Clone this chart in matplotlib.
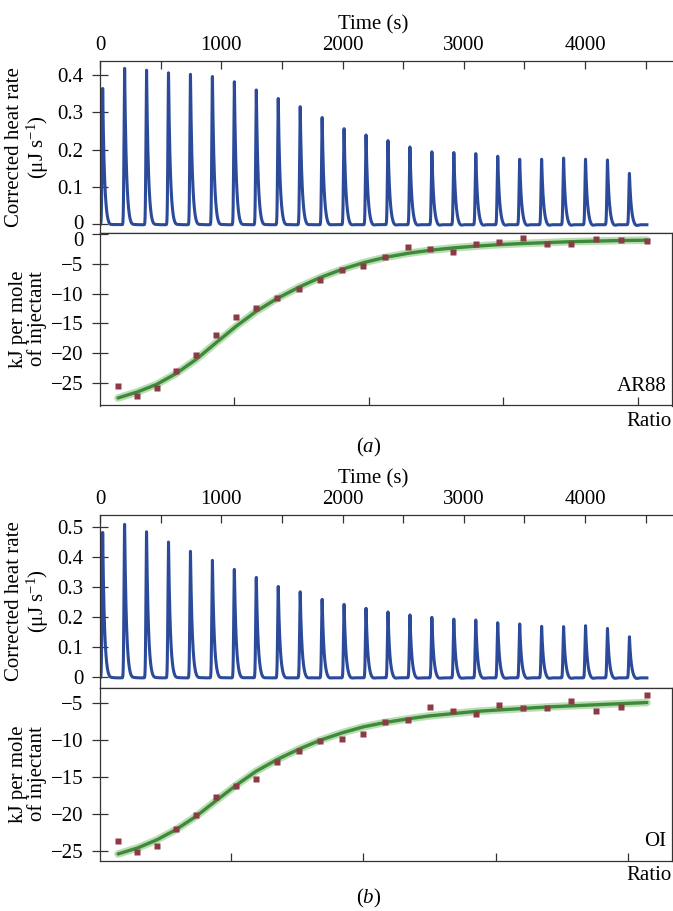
import numpy as np
import matplotlib.pyplot as plt
import matplotlib.transforms as mtransforms

plt.rcParams['font.family'] = ['Liberation Serif', 'DejaVu Serif']
plt.rcParams['font.size'] = 15
plt.rcParams['mathtext.fontset'] = 'custom'
plt.rcParams['mathtext.rm'] = 'Liberation Serif'
plt.rcParams['mathtext.it'] = 'Liberation Serif:italic'

# injection times (s), same for both experiments
inj_time = [22, 203, 384, 565, 746, 927, 1108, 1289, 1470, 1651, 1832, 2013, 2194,
            2375, 2556, 2737, 2918, 3099, 3280, 3461, 3642, 3823, 4004, 4185, 4366]
time_ticks = [0, 500, 1000, 1500, 2000, 2500, 3000, 3500, 4000, 4500]
time_labels = ['0', '', '1000', '', '2000', '', '3000', '', '4000', '']

# peak heights of the corrected heat rate (uJ/s)
heat_a = [0.366, 0.420, 0.415, 0.408, 0.404, 0.398, 0.384, 0.362, 0.339, 0.317, 0.288, 0.258, 0.241,
          0.226, 0.209, 0.196, 0.194, 0.191, 0.184, 0.176, 0.176, 0.179, 0.176, 0.174, 0.138]
heat_b = [0.485, 0.512, 0.487, 0.453, 0.422, 0.392, 0.362, 0.335, 0.305, 0.287, 0.262, 0.245, 0.232,
          0.220, 0.210, 0.202, 0.196, 0.193, 0.184, 0.180, 0.172, 0.171, 0.174, 0.165, 0.137]

# integrated heats vs molar ratio
ratio_a = [0.069, 0.140, 0.213, 0.284, 0.359, 0.433, 0.508, 0.582, 0.661, 0.742, 0.820, 0.902, 0.980,
           1.061, 1.147, 1.228, 1.313, 1.399, 1.485, 1.575, 1.664, 1.751, 1.845, 1.936, 2.034]
dh_a = [-25.5, -27.2, -25.9, -23.1, -20.3, -17.0, -13.9, -12.4, -10.8, -9.2, -7.7, -6.1, -5.3,
        -3.8, -2.2, -2.5, -3.0, -1.7, -1.3, -0.6, -1.6, -1.6, -0.8, -0.9, -1.2]
fit_a = [-27.6, -26.6, -25.3, -23.5, -21.1, -18.3, -15.5, -13.0, -10.8, -8.9, -7.3, -5.9, -4.8,
         -3.9, -3.2, -2.7, -2.3, -2.0, -1.75, -1.55, -1.4, -1.25, -1.15, -1.05, -1.0]

ratio_b = [0.073, 0.146, 0.219, 0.292, 0.368, 0.443, 0.519, 0.595, 0.675, 0.757, 0.837, 0.920, 0.999,
           1.082, 1.170, 1.252, 1.338, 1.426, 1.513, 1.605, 1.695, 1.785, 1.880, 1.973, 2.072]
dh_b = [-23.7, -25.2, -24.3, -22.0, -20.1, -17.7, -16.2, -15.2, -12.9, -11.4, -10.1, -9.8, -9.1,
        -7.5, -7.2, -5.5, -6.0, -6.5, -5.2, -5.6, -5.6, -4.7, -6.0, -5.5, -3.9]
fit_b = [-25.4, -24.6, -23.5, -22.1, -20.3, -18.2, -16.1, -14.2, -12.6, -11.2, -10.0, -9.0, -8.2,
         -7.6, -7.1, -6.7, -6.4, -6.1, -5.9, -5.7, -5.5, -5.35, -5.2, -5.05, -4.9]

BLUE = '#2b4a9a'
GREEN = '#3f8a3a'
HALO = '#a9d6a2'
RED = '#8c3a46'
SPINE = '#333333'

W, H = 673, 911
fig = plt.figure(figsize=(W / 100, H / 100), dpi=100)


def rect(x0, y0, x1, y1):
    # pixel box -> figure coords
    return [x0 / W, 1 - y1 / H, (x1 - x0) / W, (y1 - y0) / H]


def trace(heights):
    t = np.linspace(0, 4510, 9021)
    q = np.zeros_like(t) - 0.002
    for tp, h in zip(inj_time, heights):
        d = t - tp
        q += np.where(d < 0, h * np.exp(-(d / 7.0) ** 2), h * np.exp(-d / 15.0))
        q -= 0.005 * np.exp(-((d - 50) / 25.0) ** 2)
    return t, q


def style(ax):
    for s in ax.spines.values():
        s.set_color(SPINE)
        s.set_linewidth(0.9)
    ax.tick_params(axis='y', direction='inout', length=12, width=0.9, color=SPINE, pad=6)


def heat_panel(box, heights, yticks, ylim):
    ax = fig.add_axes(rect(*box))
    t, q = trace(heights)
    ax.plot(t, q, color=BLUE, lw=2.2)
    ax.set_xlim(0, 4717)
    ax.set_ylim(*ylim)
    style(ax)
    ax.spines['right'].set_visible(False)
    ax.xaxis.tick_top()
    ax.set_xticks(time_ticks, time_labels)
    ax.tick_params(axis='x', direction='in', length=5.5, width=0.9, color=SPINE, pad=4)
    ax.set_yticks(yticks, ['0'] + ['%.1f' % v for v in yticks[1:]])
    ax.annotate('Time (s)', (2250, 1.0), xycoords=('data', 'axes fraction'),
                xytext=(0, 26), textcoords='offset points', ha='center', va='center')
    return ax


def bind_panel(box, r, dh, fit, xlim, ylim, yticks, name):
    ax = fig.add_axes(rect(*box))
    ax.plot(r, fit, color=HALO, lw=5.5, alpha=0.8, solid_capstyle='round', zorder=2)
    ax.plot(r, fit, color=GREEN, lw=2.4, solid_capstyle='round', zorder=3)
    ax.plot(r, dh, 's', color=RED, ms=3.8, mec='none', zorder=4)
    ax.set_xlim(*xlim)
    ax.set_ylim(*ylim)
    style(ax)
    ax.set_xticks([0.5, 1.0, 1.5, 2.0], ['', '', '', ''])
    ax.tick_params(axis='x', direction='in', length=6, width=0.9, color=SPINE)
    ax.set_yticks(yticks)
    ax.text(0.99, 0.085, name, transform=ax.transAxes, ha='right', va='baseline')
    return ax


# panel (a)
ax_a = heat_panel((100, 61, 672, 232.5), heat_a, [0, 0.1, 0.2, 0.3, 0.4], (-0.0228, 0.4376))
bx_a = bind_panel((100, 232.5, 672, 405.5), ratio_a, dh_a, fit_a, (0.002, 2.127), (-28.87, 0.3),
                  [0, -5, -10, -15, -20, -25], 'AR88')
# nudge the two stacked zeros apart a little
lab0 = ax_a.get_yticklabels()[0]
lab0.set_transform(lab0.get_transform() + mtransforms.ScaledTranslation(0, 1.5 / 72, fig.dpi_scale_trans))
lab1 = bx_a.get_yticklabels()[0]
lab1.set_transform(lab1.get_transform() + mtransforms.ScaledTranslation(0, -3.5 / 72, fig.dpi_scale_trans))

# panel (b)
heat_panel((100, 515, 672, 688.3), heat_b, [0, 0.1, 0.2, 0.3, 0.4, 0.5], (-0.0367, 0.541))
bind_panel((100, 688.3, 672, 860.5), ratio_b, dh_b, fit_b, (0.0045, 2.167), (-26.29, -2.97),
           [-5, -10, -15, -20, -25], 'OI')

# axis titles, placed in figure pixels
ylab_heat = 'Corrected heat rate\n(μJ s$^{-1}$)'
ylab_kj = 'kJ per mole\nof injectant'
for yc, lab in [(147, ylab_heat), (319, ylab_kj), (601, ylab_heat), (774, ylab_kj)]:
    fig.text(28 / W, 1 - yc / H, lab, rotation=90, ha='center', va='center',
             multialignment='center', linespacing=1.0)

fig.text(672 / W, 1 - 422 / H, 'Ratio', ha='right', va='center')
fig.text(672 / W, 1 - 876 / H, 'Ratio', ha='right', va='center')
fig.text(369 / W, 1 - 447 / H, '($\\it{a}$)', ha='center', va='center')
fig.text(369 / W, 1 - 898 / H, '($\\it{b}$)', ha='center', va='center')

fig.savefig('out.png', dpi=100)
